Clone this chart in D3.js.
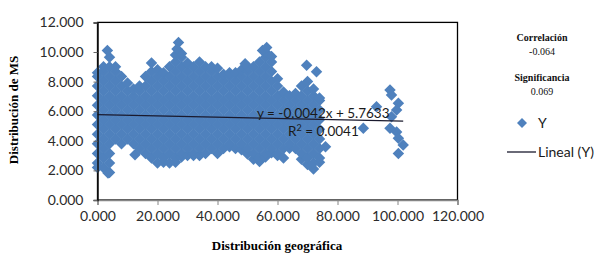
<!DOCTYPE html>
<html>
<head>
<meta charset="utf-8">
<script src="https://cdn.jsdelivr.net/npm/d3@7"></script>
<style>
  html, body { margin: 0; padding: 0; background: #fff; }
  svg { display: block; }
</style>
</head>
<body>
<svg id="chart" width="600" height="254"></svg>
<script>
// ---------------- DATA ----------------
const xTicks = [0, 20, 40, 60, 80, 100, 120];
const yTicks = [0, 2, 4, 6, 8, 10, 12];

// main cloud, read column by column (geographic distribution value -> MS values)
const geoX = [0,2,4,6,8,10,12,14,16,18,20,22,24,26,28,30,32,34,36,38,40,42,44,46,48,50,52,54,56,58,60,62,64,66,68,70,72,74];
const msY = [
  [2.2,2.5,3.15,3.8,4.45,5.1,5.75,6.4,7.05,7.7,8.35,8.6],
  [2.18,2.83,3.48,4.13,4.78,5.43,6.08,6.73,7.38,8.03,8.68,9.0],
  [1.85,2.5,3.15,3.8,4.45,5.1,5.75,6.4,7.05,7.7,8.35,9.0,9.65],
  [4.13,4.78,5.43,6.08,6.73,7.38,8.03,8.68,9.0],
  [3.8,4.45,5.1,5.75,6.4,7.05,7.7,8.35],
  [4.13,4.78,5.43,6.08,6.73,7.38,7.9],
  [3.8,4.45,5.1,5.75,6.4,7.05,7.5],
  [3.48,4.13,4.78,5.43,6.08,6.73,7.38,7.7],
  [3.15,3.8,4.45,5.1,5.75,6.4,7.05,7.7,8.35],
  [2.83,3.48,4.13,4.78,5.43,6.08,6.73,7.38,8.03,8.68,9.25],
  [2.5,3.15,3.8,4.45,5.1,5.75,6.4,7.05,7.7,8.35,8.8],
  [2.55,2.83,3.48,4.13,4.78,5.43,6.08,6.73,7.38,8.03,8.6],
  [2.5,3.15,3.8,4.45,5.1,5.75,6.4,7.05,7.7,8.35,9.0],
  [2.55,2.83,3.48,4.13,4.78,5.43,6.08,6.73,7.38,8.03,8.68,9.33,9.8],
  [2.9,3.15,3.8,4.45,5.1,5.75,6.4,7.05,7.7,8.35,9.0,9.65,9.9],
  [3.0,3.48,4.13,4.78,5.43,6.08,6.73,7.38,8.03,8.68,9.25],
  [3.0,3.15,3.8,4.45,5.1,5.75,6.4,7.05,7.7,8.35,9.0],
  [3.0,3.48,4.13,4.78,5.43,6.08,6.73,7.38,8.03,8.68,9.33],
  [3.15,3.8,4.45,5.1,5.75,6.4,7.05,7.7,8.35,9.0],
  [3.48,4.13,4.78,5.43,6.08,6.73,7.38,8.03,8.68,9.0],
  [3.15,3.8,4.45,5.1,5.75,6.4,7.05,7.7,8.35,8.9],
  [3.48,4.13,4.78,5.43,6.08,6.73,7.38,8.03,8.5],
  [3.6,3.8,4.45,5.1,5.75,6.4,7.05,7.7,8.35,8.6],
  [3.48,4.13,4.78,5.43,6.08,6.73,7.38,8.03,8.6],
  [3.4,3.8,4.45,5.1,5.75,6.4,7.05,7.7,8.35,8.8],
  [3.1,3.48,4.13,4.78,5.43,6.08,6.73,7.38,8.03,8.68,9.0],
  [2.75,3.15,3.8,4.45,5.1,5.75,6.4,7.05,7.7,8.35,9.0],
  [2.6,2.83,3.48,4.13,4.78,5.43,6.08,6.73,7.38,8.03,8.68,9.33],
  [2.9,3.15,3.8,4.45,5.1,5.75,6.4,7.05,7.7,8.35,9.0,9.65,10.0],
  [3.2,3.48,4.13,4.78,5.43,6.08,6.73,7.38,8.03,8.68,9.33,9.7],
  [3.0,3.15,3.8,4.45,5.1,5.75,6.4,7.05,7.7,8.2],
  [2.83,3.48,4.13,4.78,5.43,6.08,6.73,7.3],
  [3.5,3.8,4.45,5.1,5.75,6.4,7.05],
  [3.48,4.13,4.78,5.43,6.08,6.73,7.2],
  [2.75,3.15,3.8,4.45,5.1,5.75,6.4,7.05,7.7],
  [2.4,2.83,3.48,4.13,4.78,5.43,6.08,6.73,7.38,8.0],
  [2.1,2.5,3.15,3.8,4.45,5.1,5.75,6.4,7.05,7.5],
  [2.55,2.83,3.48,4.13,4.78,5.43,6.08,6.73,6.9]
];

// isolated points (peaks, stragglers and the right-hand group)
const extraX = [3.3, 3.5, 12.5, 27, 26.5, 49.2, 55, 56.4, 69.7, 73, 76,
                88.6, 93, 97.5, 98, 100.3, 99.7, 98, 97.5, 99.7, 100.3, 101.9, 100.3];
const extraY = [10.1, 1.83, 3.05, 10.65, 10.2, 9.2, 10.1, 10.3, 9.1, 8.67, 3.6,
                4.84, 6.3, 7.43, 7.1, 6.53, 6.08, 5.63, 4.84, 4.6, 4.17, 3.72, 3.15];

// linear trend (Excel)
const trendSlope = -0.0042;
const trendIntercept = 5.7633;
const trendRange = [0, 101.9];

const equationLabel = "y = -0.0042x + 5.7633";
const r2Value = "0.0041";
const statLabels = ["Correlación", "-0.064", "Significancia", "0.069"];
const legendLabels = ["Y", "Lineal (Y)"];
const xTitle = "Distribución geográfica";
const yTitle = "Distribución de MS";

// ---------------- CHART ----------------
const svg = d3.select("#chart");
const X0 = 97.5, X1 = 457.5, Y0 = 200, Y1 = 22.4;
const x = d3.scaleLinear().domain([0, 120]).range([X0, X1]);
const y = d3.scaleLinear().domain([0, 12]).range([Y0, Y1]);

const blue = "#4F81BD";
const tickFont = "Lato, 'Open Sans', sans-serif";
const serif = "'Liberation Serif', 'DejaVu Serif', serif";

const points = [];
geoX.forEach((gx, i) => msY[i].forEach(v => points.push([gx, v])));
extraX.forEach((gx, i) => points.push([gx, extraY[i]]));

const h = 5.75;
const diamond = `M0,${-h}L${h},0L0,${h}L${-h},0Z`;

// plot area border (top/right)
svg.append("rect")
  .attr("x", X0).attr("y", Y1)
  .attr("width", X1 - X0).attr("height", Y0 - Y1)
  .attr("fill", "none").attr("stroke", "#000").attr("stroke-width", 1.3);

// points
svg.append("g").selectAll("path").data(points).join("path")
  .attr("d", diamond)
  .attr("transform", d => `translate(${x(d[0])},${y(d[1])})`)
  .attr("fill", blue);

// trend line
svg.append("line")
  .attr("x1", x(trendRange[0])).attr("y1", y(trendSlope * trendRange[0] + trendIntercept))
  .attr("x2", x(trendRange[1])).attr("y2", y(trendSlope * trendRange[1] + trendIntercept))
  .attr("stroke", "#1a1a2e").attr("stroke-width", 1.3);

// axes
const fmt = d3.format(".3f");
const xAxis = svg.append("g").attr("transform", `translate(0,${Y0})`)
  .call(d3.axisBottom(x).tickValues(xTicks).tickFormat(fmt).tickSize(5).tickPadding(6));
xAxis.select(".domain").attr("stroke", "#868686").attr("stroke-width", 1.5);
xAxis.selectAll(".tick line").attr("stroke", "#868686");
xAxis.selectAll("text").attr("font-family", tickFont).attr("font-size", 14).attr("fill", "#2b2b2b");

const yAxis = svg.append("g").attr("transform", `translate(${X0},0)`)
  .call(d3.axisLeft(y).tickValues(yTicks).tickFormat(fmt).tickSize(4).tickPadding(10));
yAxis.select(".domain").attr("stroke", "#111").attr("stroke-width", 1.5);
yAxis.selectAll(".tick line").attr("stroke", "#666");
yAxis.selectAll("text").attr("font-family", tickFont).attr("font-size", 14).attr("fill", "#2b2b2b");

// equation labels
svg.append("text").attr("x", 257).attr("y", 118)
  .attr("font-family", tickFont).attr("font-size", 13.5).attr("fill", "#1a1a1a")
  .text(equationLabel);
const r2 = svg.append("text").attr("x", 288).attr("y", 136)
  .attr("font-family", tickFont).attr("font-size", 13.5).attr("fill", "#1a1a1a");
r2.append("tspan").text("R");
r2.append("tspan").attr("baseline-shift", "super").attr("font-size", 9).text("2");
r2.append("tspan").text(" = " + r2Value);

// axis titles
svg.append("text")
  .attr("transform", "translate(18,110) rotate(-90)")
  .attr("text-anchor", "middle")
  .attr("font-family", serif).attr("font-weight", "bold").attr("font-size", 13)
  .text(yTitle);
svg.append("text").attr("x", 277).attr("y", 250)
  .attr("text-anchor", "middle")
  .attr("font-family", serif).attr("font-weight", "bold").attr("font-size", 13)
  .text(xTitle);

// stats text
const statY = [41, 55, 81, 95];
statLabels.forEach((t, i) => {
  svg.append("text").attr("x", 542).attr("y", statY[i])
    .attr("text-anchor", "middle")
    .attr("font-family", serif).attr("font-size", 10)
    .attr("font-weight", i % 2 === 0 ? "bold" : "normal")
    .attr("fill", "#111")
    .text(t);
});

// legend
svg.append("path").attr("d", "M0,-5L5,0L0,5L-5,0Z")
  .attr("transform", "translate(522,123)").attr("fill", blue);
svg.append("text").attr("x", 538).attr("y", 128)
  .attr("font-family", tickFont).attr("font-size", 14).attr("fill", "#1a1a1a")
  .text(legendLabels[0]);
svg.append("line").attr("x1", 507).attr("x2", 536).attr("y1", 152).attr("y2", 152)
  .attr("stroke", "#1a1a2e").attr("stroke-width", 1.3);
svg.append("text").attr("x", 538).attr("y", 157)
  .attr("font-family", tickFont).attr("font-size", 14).attr("fill", "#1a1a1a")
  .text(legendLabels[1]);
</script>
</body>
</html>
